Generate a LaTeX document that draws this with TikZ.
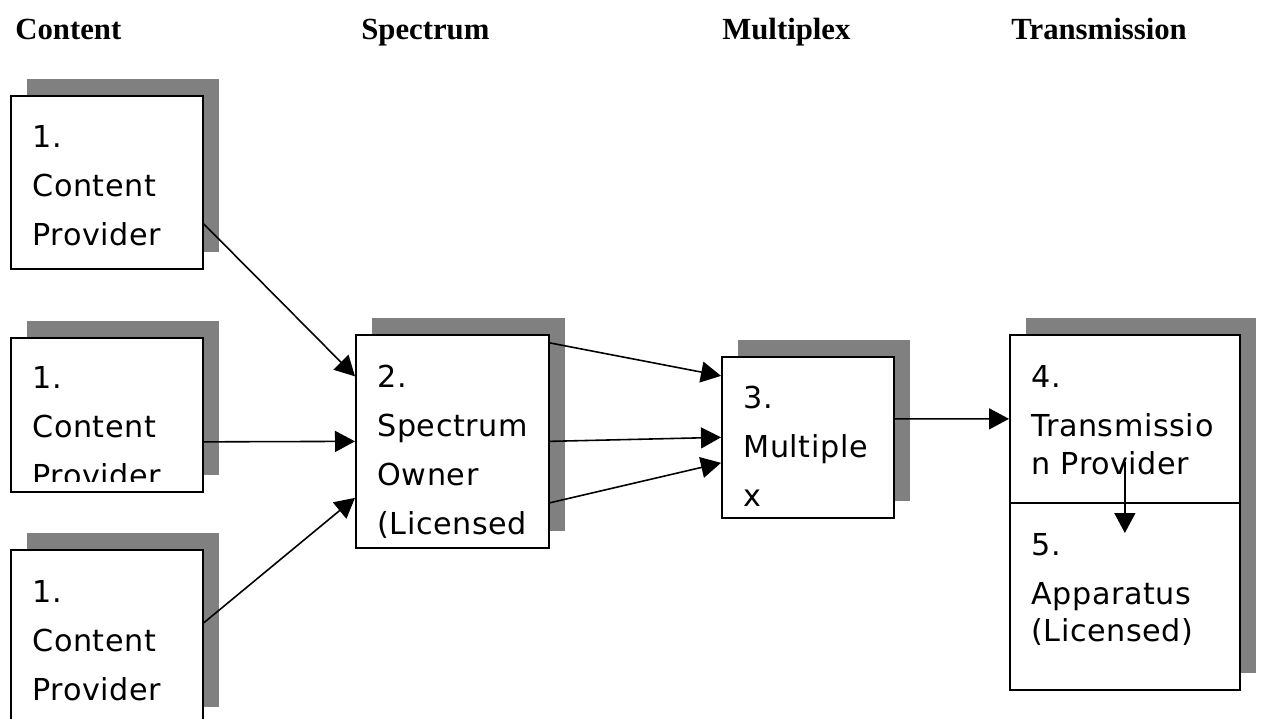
\documentclass[tikz,border=0pt]{standalone}
\usepackage{fontspec}
\setmainfont{Liberation Serif}
\newfontfamily\boxfont[LetterSpace=2]{DejaVu Sans}
\usetikzlibrary{arrows.meta,shadows}

\begin{document}
\begin{tikzpicture}[x=0.02cm,y=-0.02cm,
  box/.style={draw,fill=white,line width=1pt,anchor=north west,inner sep=0,
    drop shadow={shadow xshift=0.32cm,shadow yshift=0.34cm,fill=gray,opacity=1}},
  txt/.style={anchor=north west,inner sep=0,align=left,
    font=\boxfont\fontsize{17.2pt}{27.9pt}\selectfont},
  head/.style={anchor=base west,inner sep=0,font=\bfseries\fontsize{17.5pt}{21pt}\selectfont},
  arr/.style={-{Triangle[length=0.4cm,width=0.42cm]},line width=0.9pt}]
\useasboundingbox (0,0) rectangle (1263,719);
\clip (0,0) rectangle (1263,719);
% column titles
\node [head] (h1) at (15,40) {Content};
\node [head] (h2) at (361,40) {Spectrum};
\node [head] (h3) at (722,40) {Multiplex};
\node [head] (h4) at (1011,40) {Transmission};
% boxes
\node [box,minimum width=3.84cm,minimum height=3.46cm] (cp1) at (10,95) {};
\node [box,minimum width=3.84cm,minimum height=3.08cm] (cp2) at (10,337) {};
\node [box,minimum width=3.84cm,minimum height=3.48cm] (cp3) at (10,549) {};
\node [box,minimum width=3.86cm,minimum height=4.26cm] (so) at (355,334) {};
\node [box,minimum width=3.44cm,minimum height=3.22cm] (mx) at (721,356) {};
\node [box,minimum width=4.6cm,minimum height=3.74cm] (ap) at (1009,502) {};
\node [box,minimum width=4.6cm,minimum height=3.36cm] (tp) at (1009,334) {};
% texts
\node [txt] (t1) at ([xshift=0.44cm,yshift=-0.6cm]cp1.north west) {1.\\Content\\Provider};
\begin{scope}
\clip (cp2.north west) rectangle ([yshift=0.22cm]cp2.south east);
\node [txt] (t2) at ([xshift=0.44cm,yshift=-0.58cm]cp2.north west) {1.\\Content\\Provider};
\end{scope}
\node [txt] (t3) at ([xshift=0.44cm,yshift=-0.62cm]cp3.north west) {1.\\Content\\Provider};
\node [txt] (t4) at ([xshift=0.44cm,yshift=-0.62cm]so.north west) {2.\\Spectrum\\Owner\\(Licensed};
\node [txt] (t5) at ([xshift=0.44cm,yshift=-0.6cm]mx.north west) {3.\\Multiple\\x};
\node [txt] (t6) at ([xshift=0.44cm,yshift=-0.62cm]tp.north west) {4.\\Transmissio\\[-0.22cm]n Provider};
\node [txt] (t7) at ([xshift=0.44cm,yshift=-0.62cm]ap.north west) {5.\\Apparatus\\[-0.24cm](Licensed)};
% arrows
\draw [arr] ([yshift=-0.83cm]cp1.east) -- ([yshift=1.3cm]so.west);
\draw [arr] ([yshift=-0.54cm]cp2.east) -- (so.west);
\draw [arr] ([yshift=0.28cm]cp3.east) -- ([yshift=-1.13cm]so.west);
\draw [arr] ([yshift=1.97cm]so.east) -- ([yshift=1.23cm]mx.west);
\draw [arr] (so.east) -- (mx.west);
\draw [arr] ([yshift=-1.23cm]so.east) -- ([yshift=-0.51cm]mx.west);
\draw [arr] ([yshift=0.37cm]mx.east) -- (tp.west);
\draw [arr] ([yshift=0.84cm]tp.south) -- ([yshift=-0.62cm]ap.north);
\end{tikzpicture}
\end{document}
